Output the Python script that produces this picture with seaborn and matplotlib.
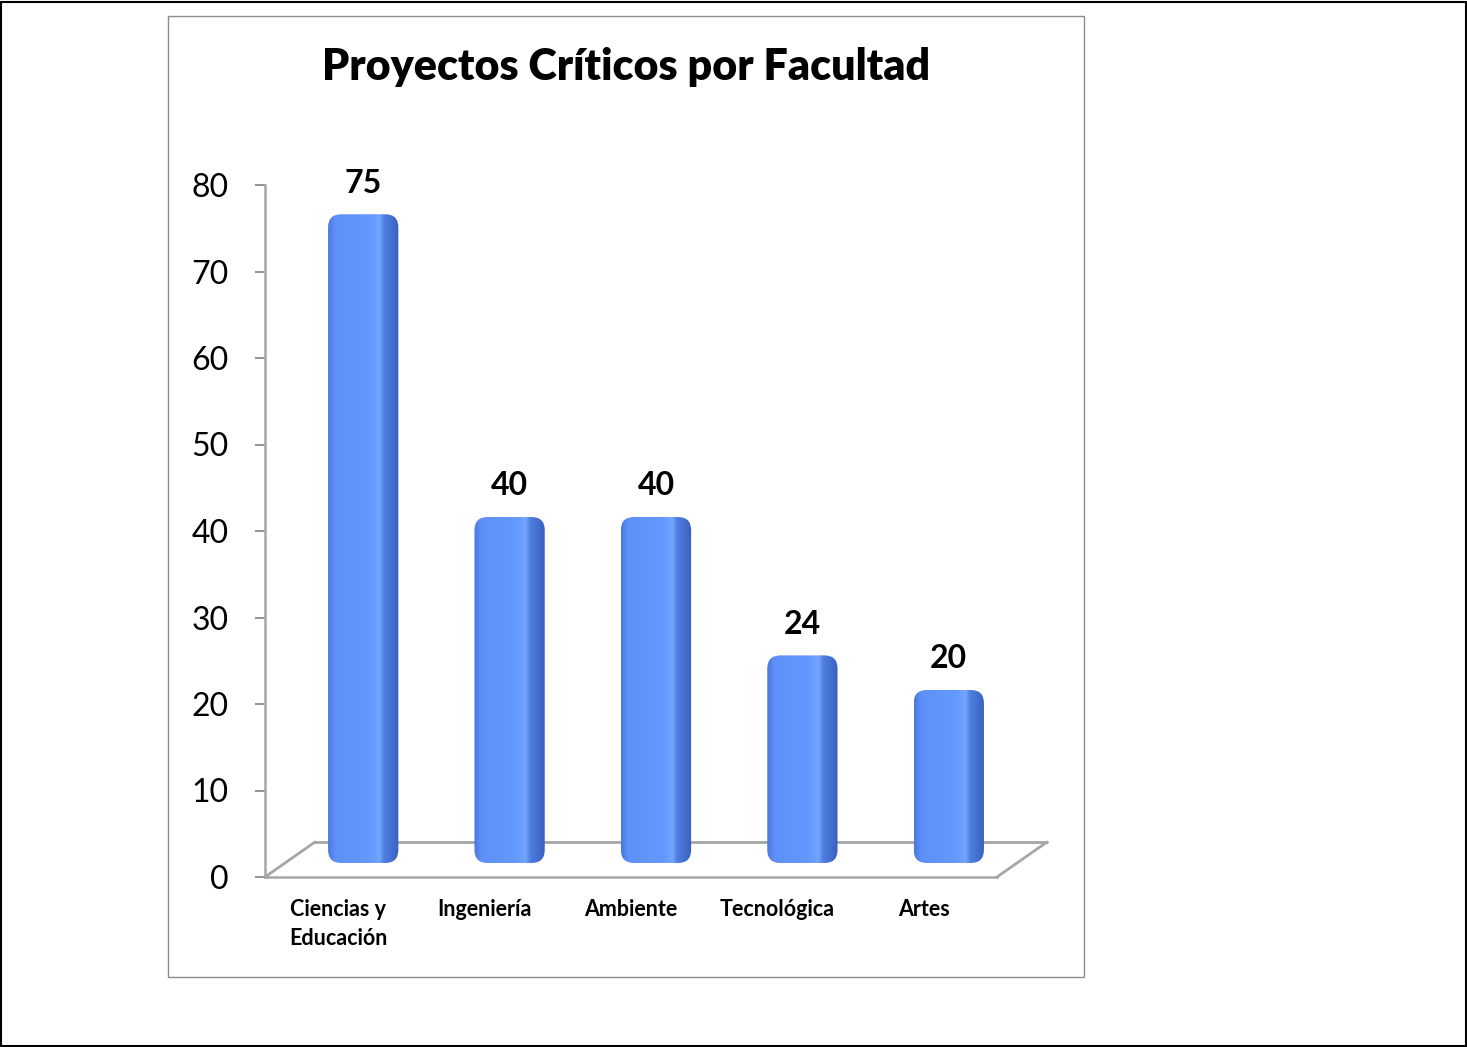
import matplotlib

matplotlib.use("Agg")
import matplotlib.pyplot as plt
import matplotlib.transforms as mtransforms
import numpy as np
import pandas as pd
import seaborn as sns
from matplotlib.colors import LinearSegmentedColormap
from matplotlib.patches import FancyBboxPatch, Rectangle

# --- datos ------------------------------------------------------------------
facultades = ["Ciencias y\nEducación", "Ingeniería", "Ambiente", "Tecnológica", "Artes"]
proyectos = [75, 40, 40, 24, 20]
ticks_y = [0, 10, 20, 30, 40, 50, 60, 70, 80]
titulo = "Proyectos Críticos por Facultad"

sns.set_theme(style="white")
plt.rcParams["font.family"] = ["Lato", "DejaVu Sans"]
plt.rcParams["text.color"] = "black"
plt.rcParams["xtick.labelcolor"] = "black"
plt.rcParams["ytick.labelcolor"] = "black"

W, H = 1467, 1047
fig = plt.figure(figsize=(W / 100, H / 100), dpi=100)

# ejes en pixeles de la figura
ax_l, ax_r, ax_t, ax_b = 265, 997, 185, 877
ax = fig.add_axes([ax_l / W, 1 - ax_b / H, (ax_r - ax_l) / W, (ax_b - ax_t) / H])

df = pd.DataFrame({"facultad": facultades, "proyectos": proyectos})
sns.barplot(data=df, x="facultad", y="proyectos", width=0.48, color="#5b8ef7", ax=ax)

xlim = (-0.5, len(facultades) - 0.5)
ylim = (0, 80)
px_x = (xlim[1] - xlim[0]) / (ax_r - ax_l)   # unidades x por pixel
px_y = (ylim[1] - ylim[0]) / (ax_b - ax_t)   # unidades y por pixel

# piso en perspectiva
prof_dx, prof_dy = 50 * px_x, 35 * px_y
gris = "#a6a6a6"
x0f, x1f = xlim
ax.plot([x0f + prof_dx, x1f + prof_dx], [prof_dy, prof_dy], color=gris, lw=2, zorder=1, clip_on=False)
ax.plot([x0f, x0f + prof_dx], [0, prof_dy], color=gris, lw=2, zorder=1, clip_on=False)
ax.plot([x1f, x1f + prof_dx], [0, prof_dy], color=gris, lw=2, zorder=1, clip_on=False)

# barras con aspecto cilíndrico
cil = LinearSegmentedColormap.from_list(
    "cil", [(0.0, "#4a78dc"), (0.1, "#5d90f8"), (0.6, "#6499ff"), (0.73, "#74a4ff"),
            (0.79, "#4f80e2"), (1.0, "#3a5fbf")])
grad = np.linspace(0, 1, 256).reshape(1, -1)
desplaza = ax.transData + mtransforms.ScaledTranslation(25 / 100, 14 / 100, fig.dpi_scale_trans)
radio = 0.09
aspecto = px_y / px_x

centros = []
for p in list(ax.patches):
    x0, w, h = p.get_x(), p.get_width(), p.get_height()
    p.set_visible(False)
    caja = FancyBboxPatch((x0, 0), w, h, boxstyle=f"round,pad=0,rounding_size={radio}",
                          mutation_aspect=aspecto, transform=desplaza,
                          facecolor="none", edgecolor="none")
    ax.add_patch(caja)
    im = ax.imshow(grad, cmap=cil, aspect="auto", extent=(x0, x0 + w, 0, h),
                   interpolation="bilinear", zorder=3)
    im.set_transform(desplaza)
    im.set_clip_path(caja)
    centros.append((x0 + w / 2, h))

for (cx, h), v in zip(centros, proyectos):
    ax.annotate(f"{v}", (cx, v), xytext=(25 * 0.72, 14 * 0.72 + 12), textcoords="offset points",
                ha="center", va="bottom", fontsize=23, fontweight="bold", color="black")

ax.set_xlim(xlim)
ax.set_ylim(ylim)
ax.set_xlabel("")
ax.set_ylabel("")
ax.set_yticks(ticks_y)
ax.set_xticks(range(len(facultades)))
ax.set_xticklabels(facultades, fontsize=15.5, fontweight="bold", linespacing=1.45)
ax.set_xticks(np.arange(len(facultades) + 1) - 0.5, minor=True)
ax.tick_params(axis="x", which="major", length=0, pad=16, labelcolor="black")
ax.tick_params(axis="x", which="minor", length=6, width=1.2, color="#808080", direction="out")
ax.tick_params(axis="y", length=7, width=1.2, color="#808080", direction="out",
               labelsize=23, pad=19, left=True, labelcolor="black")
for lado in ["top", "right"]:
    ax.spines[lado].set_visible(False)
for lado in ["left", "bottom"]:
    ax.spines[lado].set_color(gris)
    ax.spines[lado].set_linewidth(1.8)
ax.set_facecolor("none")

fig.text(626 / W, 1 - 67 / H, titulo, ha="center", va="center", fontsize=31,
         fontweight="heavy", color="black")

# marcos
fig.add_artist(Rectangle((168 / W, 1 - 977 / H), (1084 - 168) / W, (977 - 16) / H,
                         transform=fig.transFigure, fill=False, edgecolor="#8c8c8c", lw=1))
fig.add_artist(Rectangle((1 / W, 1 / H), (W - 2) / W, (H - 3) / H,
                         transform=fig.transFigure, fill=False, edgecolor="black", lw=1.5))

fig.savefig("out.png", dpi=100)
